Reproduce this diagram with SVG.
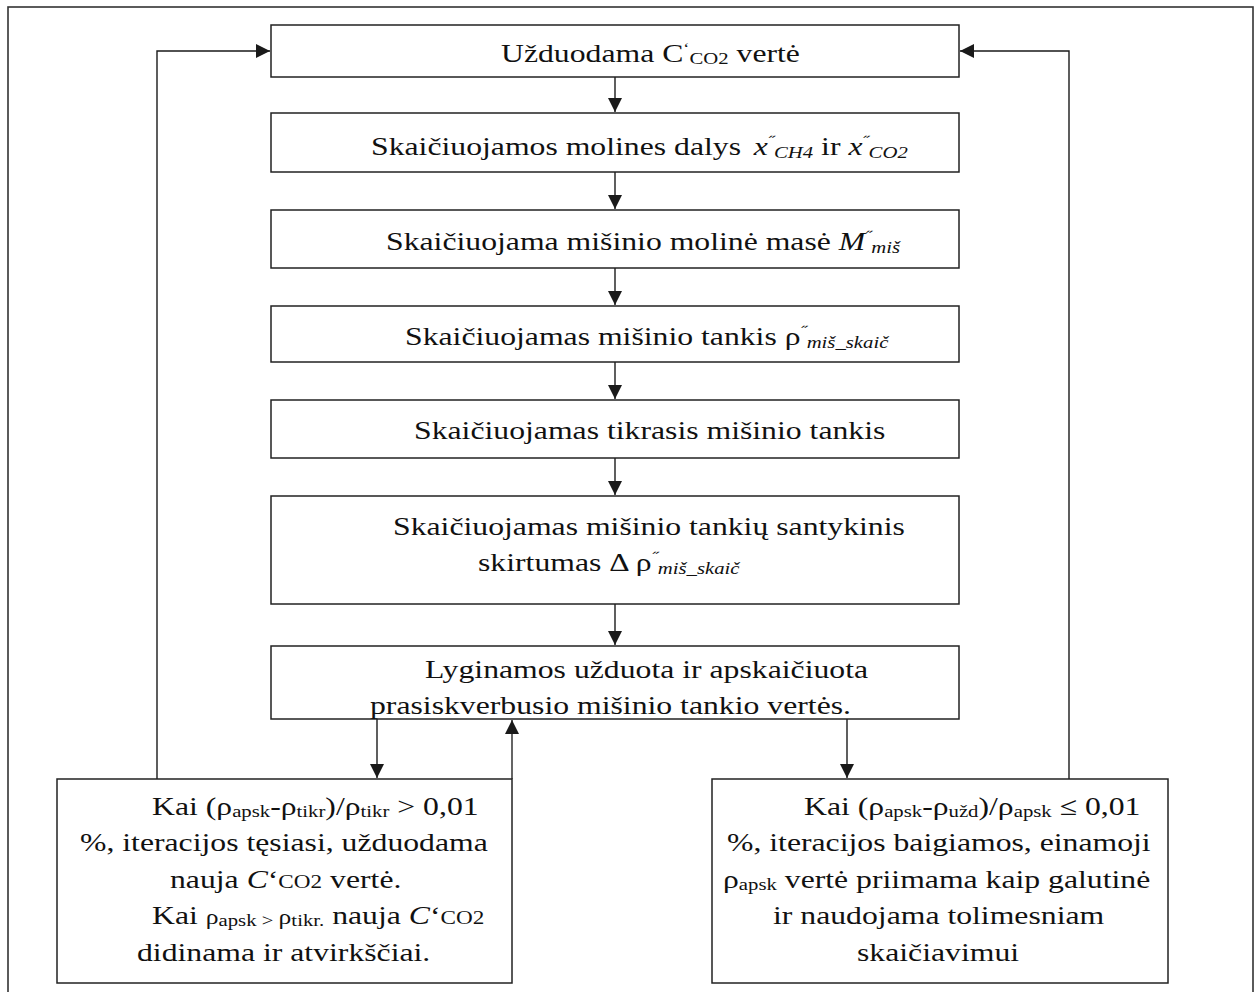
<svg xmlns="http://www.w3.org/2000/svg" width="1258" height="992" viewBox="0 0 1258 992">
<style>
.box{fill:#fff;stroke:#222;stroke-width:1.5}
.frame{fill:none;stroke:#333;stroke-width:1.6}
.con{fill:none;stroke:#1a1a1a;stroke-width:1.4}
text{font-family:"Liberation Serif","Times New Roman",serif;font-size:26px;fill:#111}
.it{font-style:italic}
.sb{font-size:17px}
.sp{font-size:15px}
</style>
<defs>
<marker id="ah" markerUnits="userSpaceOnUse" markerWidth="15" markerHeight="15" refX="14" refY="7" orient="auto">
<path d="M0,0 L14,7 L0,14 Z" fill="#1a1a1a"/>
</marker>
</defs>
<rect class="frame" x="8" y="7" width="1245" height="1000"/>
<g id="connectors">
<path class="con" d="M615,77 V112" marker-end="url(#ah)"/>
<path class="con" d="M615,172 V209" marker-end="url(#ah)"/>
<path class="con" d="M615,268 V305" marker-end="url(#ah)"/>
<path class="con" d="M615,362 V399" marker-end="url(#ah)"/>
<path class="con" d="M615,458 V495" marker-end="url(#ah)"/>
<path class="con" d="M615,604 V645" marker-end="url(#ah)"/>
<path class="con" d="M377,719 V778" marker-end="url(#ah)"/>
<path class="con" d="M512,779 V720" marker-end="url(#ah)" style="stroke:#555;stroke-width:1.8"/>
<path class="con" d="M847,719 V778" marker-end="url(#ah)"/>
<path class="con" d="M157,779 V51 H270" marker-end="url(#ah)"/>
<path class="con" d="M1069,779 V51 H960" marker-end="url(#ah)"/>
</g>
<g id="n1">
<rect class="box" x="271" y="25" width="688" height="52"/>
<text transform="translate(501,62) scale(1.22,1)">Užduodama C<tspan class="sp" dy="-9">ʻ</tspan><tspan class="sb" dy="11">CO2</tspan><tspan dy="-2"> vertė</tspan></text>
</g>
<g id="n2">
<rect class="box" x="271" y="113" width="688" height="59"/>
<text transform="translate(371,155) scale(1.22,1)">Skaičiuojamos molines dalys <tspan class="it" dx="4">x</tspan><tspan class="sp it" dy="-9">˝</tspan><tspan class="sb it" dy="12">CH4</tspan><tspan dy="-3"> ir </tspan><tspan class="it">x</tspan><tspan class="sp it" dy="-9">˝</tspan><tspan class="sb it" dy="12">CO2</tspan></text>
</g>
<g id="n3">
<rect class="box" x="271" y="210" width="688" height="58"/>
<text transform="translate(386,250) scale(1.22,1)">Skaičiuojama mišinio molinė masė <tspan class="it">M</tspan><tspan class="sp it" dy="-9">˝</tspan><tspan class="sb it" dy="12">miš</tspan></text>
</g>
<g id="n4">
<rect class="box" x="271" y="306" width="688" height="56"/>
<text transform="translate(405,345) scale(1.22,1)">Skaičiuojamas mišinio tankis ρ<tspan class="sp it" dy="-9">˝</tspan><tspan class="sb it" dy="12">miš_skaič</tspan></text>
</g>
<g id="n5">
<rect class="box" x="271" y="400" width="688" height="58"/>
<text transform="translate(414,439) scale(1.22,1)">Skaičiuojamas tikrasis mišinio tankis</text>
</g>
<g id="n6">
<rect class="box" x="271" y="496" width="688" height="108"/>
<text transform="translate(393,535) scale(1.22,1)">Skaičiuojamas mišinio tankių santykinis</text>
<text transform="translate(478,571) scale(1.22,1)">skirtumas Δ ρ<tspan class="sp it" dy="-9">˝</tspan><tspan class="sb it" dy="12">miš_skaič</tspan></text>
</g>
<g id="n7">
<rect class="box" x="271" y="646" width="688" height="73"/>
<text transform="translate(425,678) scale(1.22,1)">Lyginamos užduota ir apskaičiuota</text>
<text transform="translate(370,714) scale(1.22,1)">prasiskverbusio mišinio tankio vertės.</text>
</g>
<g id="n8">
<rect class="box" x="57" y="779" width="455" height="204"/>
<text transform="translate(152,815) scale(1.22,1)">Kai (ρ<tspan class="sb" dy="2">apsk</tspan><tspan dy="-2">-ρ</tspan><tspan class="sb" dy="2">tikr</tspan><tspan dy="-2">)/ρ</tspan><tspan class="sb" dy="2">tikr</tspan><tspan dy="-2"> &gt; 0,01</tspan></text>
<text transform="translate(80,851) scale(1.22,1)">%, iteracijos tęsiasi, užduodama</text>
<text transform="translate(170,888) scale(1.22,1)">nauja <tspan class="it">C</tspan>‘<tspan font-size="19">CO2</tspan> vertė.</text>
<text transform="translate(152,924) scale(1.22,1)">Kai <tspan font-size="21">ρ</tspan><tspan class="sb" dy="2">apsk &gt; </tspan><tspan font-size="21" dy="-2">ρ</tspan><tspan class="sb" dy="2">tikr.</tspan><tspan dy="-2"> nauja </tspan><tspan class="it">C</tspan>‘<tspan font-size="19">CO2</tspan></text>
<text transform="translate(137,961) scale(1.22,1)">didinama ir atvirkščiai.</text>
</g>
<g id="n9">
<rect class="box" x="712" y="779" width="456" height="204"/>
<text transform="translate(804,815) scale(1.22,1)">Kai (ρ<tspan class="sb" dy="2">apsk</tspan><tspan dy="-2">-ρ</tspan><tspan class="sb" dy="2">užd</tspan><tspan dy="-2">)/ρ</tspan><tspan class="sb" dy="2">apsk</tspan><tspan dy="-2"> ≤ 0,01</tspan></text>
<text transform="translate(727,851) scale(1.22,1)">%, iteracijos baigiamos, einamoji</text>
<text transform="translate(723,888) scale(1.22,1)">ρ<tspan class="sb" dy="2">apsk</tspan><tspan dy="-2"> vertė priimama kaip galutinė</tspan></text>
<text transform="translate(773,924) scale(1.22,1)">ir naudojama tolimesniam</text>
<text transform="translate(857,961) scale(1.22,1)">skaičiavimui</text>
</g>
</svg>
